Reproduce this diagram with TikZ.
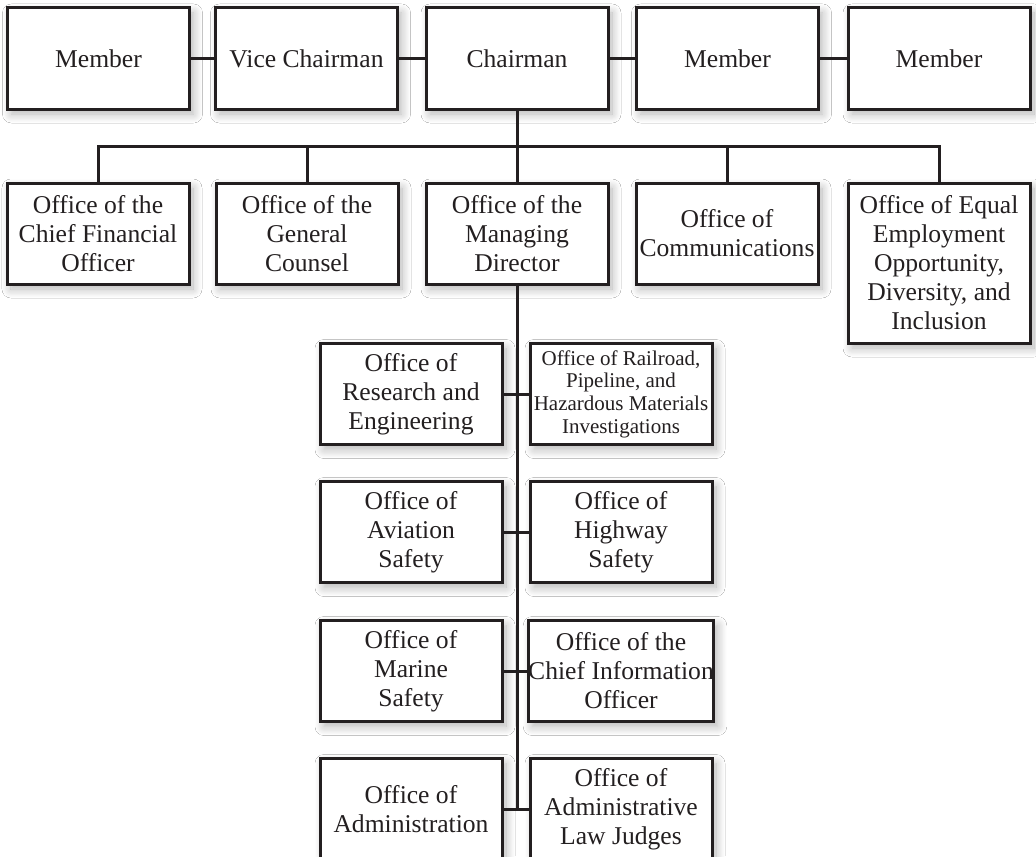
\documentclass[tikz,border=0pt]{standalone}
\usepackage{fontspec}
\setmainfont{Liberation Serif}
\usetikzlibrary{shadows.blur}
\definecolor{ink}{RGB}{35,31,32}
\begin{document}
\begin{tikzpicture}[x=0.5pt,y=-0.5pt,
  box/.style={draw=ink, line width=1.5pt, fill=white, text=ink, align=center,
    inner sep=0pt, minimum width=91pt, minimum height=50.5pt,
    font=\fontsize{12.8}{14.5}\selectfont,
    blur shadow={shadow xshift=2pt, shadow yshift=-2.5pt,
      shadow blur radius=4.5pt, shadow blur steps=12, shadow opacity=30}},
  small/.style={font=\fontsize{10.5}{11.3}\selectfont},
  link/.style={draw=ink, line width=1.5pt, line join=miter}]
\useasboundingbox[fill=white] (0,0) rectangle (1036,856);

% board
\node[box] (m1)    at (98.5,58.5) {Member};
\node[box] (vice)  at (306.5,58.5) {Vice Chairman};
\node[box] (chair) at (517,58.5) {Chairman};
\node[box] (m2)    at (727.5,58.5) {Member};
\node[box] (m3)    at (939,58.5) {Member};

% offices reporting to the chairman
\node[box] (cfo)  at (98,233.5) {Office of the\\Chief Financial\\Officer};
\node[box] (gc)   at (307,233.5) {Office of the\\General\\Counsel};
\node[box] (md)   at (517,233.5) {Office of the\\Managing\\Director};
\node[box] (comm) at (727,233.5) {Office of\\Communications};
\node[box, minimum height=80pt] (eeo) at (939,263) {Office of Equal\\Employment\\Opportunity,\\Diversity, and\\Inclusion};

% offices under the managing director
\node[box] (re)   at (411,394) {Office of\\Research and\\Engineering};
\node[box, small] (rph) at (621,394) {Office of Railroad,\\Pipeline, and\\Hazardous Materials\\Investigations};
\node[box] (avi)  at (411,532) {Office of\\Aviation\\Safety};
\node[box] (hwy)  at (621,532) {Office of\\Highway\\Safety};
\node[box] (mar)  at (411,671) {Office of\\Marine\\Safety};
\node[box] (cio)  at (621,671) {Office of the\\Chief Information\\Officer};
\node[box] (adm)  at (411,809) {Office of\\Administration};
\node[box] (alj)  at (621,809) {Office of\\Administrative\\Law Judges};

% board links
\draw[link] (m1) -- (vice);
\draw[link] (vice) -- (chair);
\draw[link] (chair) -- (m2);
\draw[link] (m2) -- (m3);

% chairman bus
\coordinate (bus) at (517,146);
\draw[link] (chair.south) -- (bus);
\draw[link] (cfo.north) -- (cfo.north |- bus) -- (eeo.north |- bus) -- (eeo.north);
\draw[link] (gc.north) -- (gc.north |- bus);
\draw[link] (md.north) -- (md.north |- bus);
\draw[link] (comm.north) -- (comm.north |- bus);

% managing director spine
\draw[link] (md.south) -- (md.south |- adm.east);
\draw[link] (re.east) -- (rph.west);
\draw[link] (avi.east) -- (hwy.west);
\draw[link] (mar.east) -- (cio.west);
\draw[link] (adm.east) -- (alj.west);
\end{tikzpicture}
\end{document}
